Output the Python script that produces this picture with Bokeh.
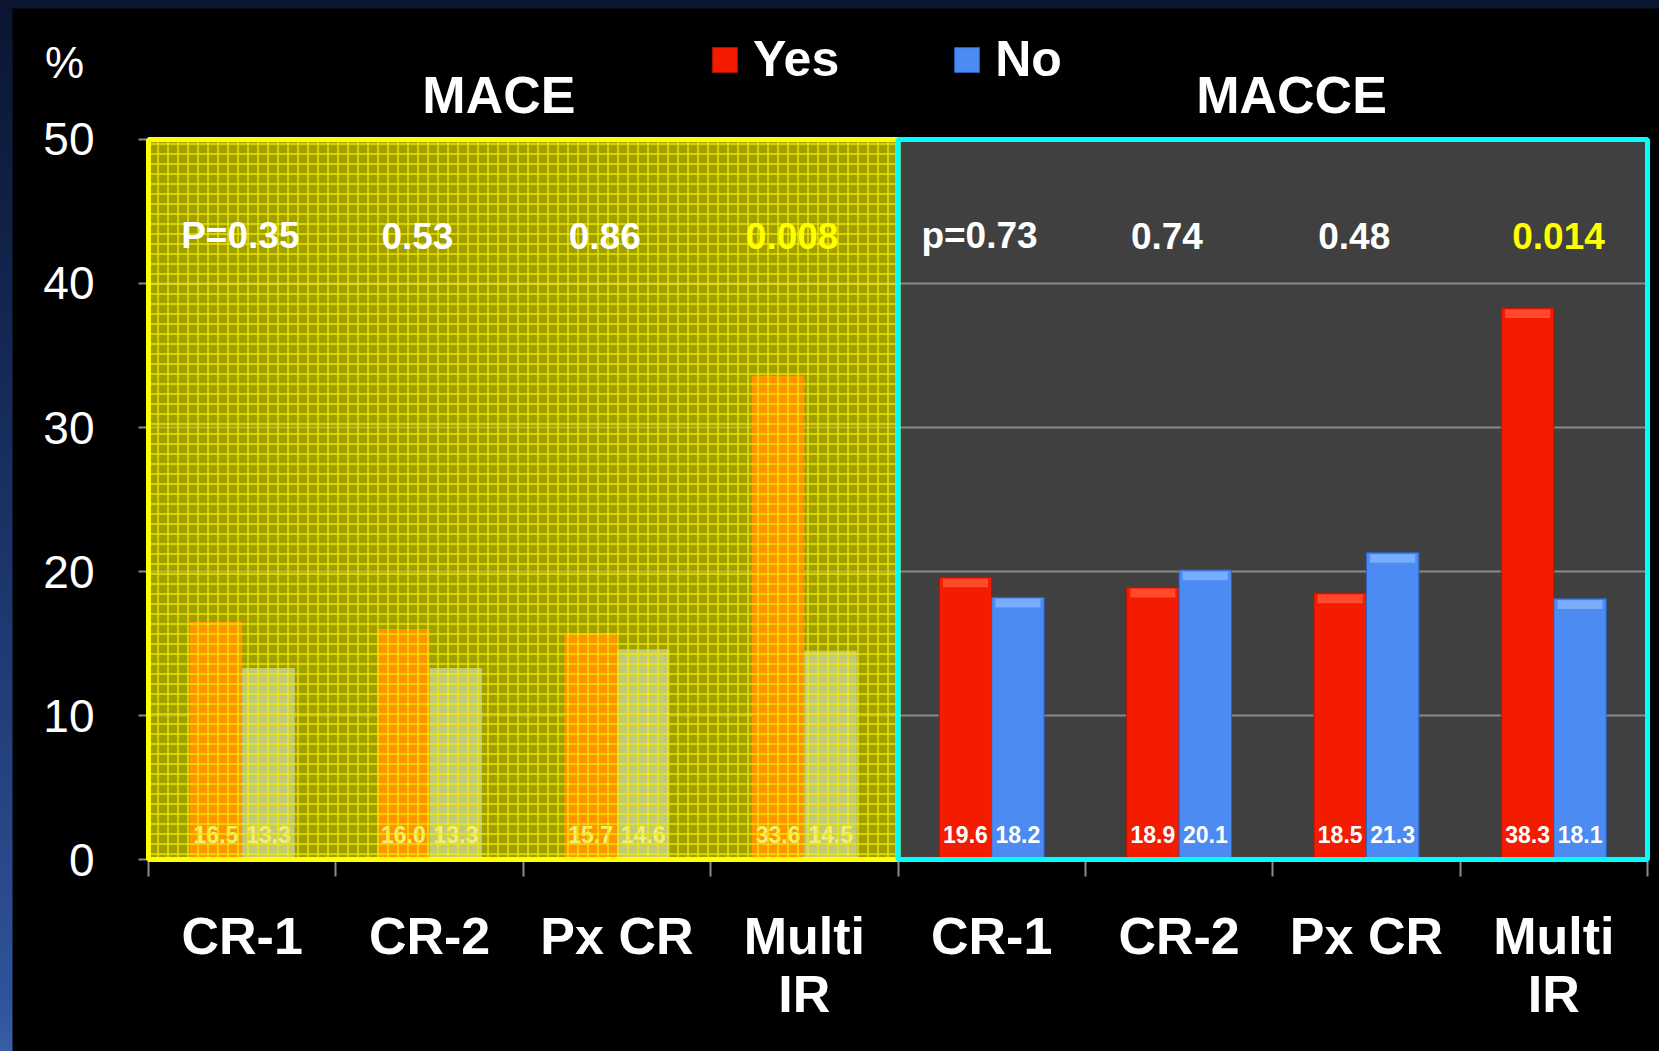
import numpy as np
from bokeh.plotting import figure
from bokeh.models import FixedTicker, Label, Legend, LegendItem
from bokeh.core.properties import value
from bokeh.embed import file_html
from bokeh.resources import INLINE

# ---------------- data ----------------
groups = ["MACE", "MACCE"]
categories = ["CR-1", "CR-2", "Px CR", "Multi\nIR"]
series = ["Yes", "No"]
mace_yes = [16.5, 16.0, 15.7, 33.6]
mace_no = [13.3, 13.3, 14.6, 14.5]
macce_yes = [19.6, 18.9, 18.5, 38.3]
macce_no = [18.2, 20.1, 21.3, 18.1]
p_values = [0.35, 0.53, 0.86, 0.008, 0.73, 0.74, 0.48, 0.014]
p_labels = ["P=0.35", "0.53", "0.86", "0.008", "p=0.73", "0.74", "0.48", "0.014"]
y_ticks = [0, 10, 20, 30, 40, 50]

# layout tweaks (horizontal nudges of the p-value texts, in category units)
p_nudge = [-0.01, -0.065, -0.065, -0.065, -0.065, -0.065, -0.065, 0.025]

FONT = "Liberation Sans"
n = len(categories)
centers = np.arange(2 * n) + 0.5
mace_x = centers[:n]
macce_x = centers[n:]
W = 0.28
ymax = y_ticks[-1]

FW, FH = 1647, 1043
# frame covers the whole canvas; the axes are pinned at x=0 / y=0
p = figure(width=FW, height=FH,
           x_range=(-0.72582, 2 * n + 0.06404), y_range=(-13.3333, 59.0972),
           output_backend="svg", toolbar_location=None,
           background_fill_color="black", border_fill_color="black",
           min_border=0, outline_line_color=None)
p.xgrid.visible = False
p.ygrid.visible = False

# zones
p.quad(left=[0], right=[n], bottom=[0], top=[ymax], fill_color="#a19e00", line_color=None)
p.quad(left=[n], right=[2 * n], bottom=[0], top=[ymax], fill_color="#404040", line_color=None)

grid_y = y_ticks[1:-1]
p.segment(x0=[0] * len(grid_y), x1=[n] * len(grid_y), y0=grid_y, y1=grid_y,
          line_color="#e0dca0", line_alpha=0.4, line_width=2)
p.segment(x0=[n] * len(grid_y), x1=[2 * n] * len(grid_y), y0=grid_y, y1=grid_y,
          line_color="#8a8a8a", line_width=2)

# MACE bars (seen through the yellow overlay)
p.vbar(x=mace_x - W / 2, top=mace_yes, width=W, fill_color="#ff9400", line_color=None)
p.vbar(x=mace_x + W / 2, top=mace_no, width=W, fill_color="#c2ca78", line_color=None)

# MACCE bars
r_yes = p.vbar(x=macce_x - W / 2, top=macce_yes, width=W, fill_color="#f41c00",
               line_color="#b81200", line_width=1)
r_no = p.vbar(x=macce_x + W / 2, top=macce_no, width=W, fill_color="#4b8bf2",
              line_color="#2c62c4", line_width=1)
# bevel highlight at bar tops
p.vbar(x=macce_x - W / 2, top=[v - 0.1 for v in macce_yes], bottom=[v - 0.7 for v in macce_yes],
       width=W * 0.86, fill_color="#ff4a2c", line_color=None)
p.vbar(x=macce_x + W / 2, top=[v - 0.1 for v in macce_no], bottom=[v - 0.7 for v in macce_no],
       width=W * 0.86, fill_color="#78acff", line_color=None)

# value labels
lab_y = [1.74] * n
for xs, vals, col in [(mace_x - W / 2, mace_yes, "#f2ee7a"), (mace_x + W / 2, mace_no, "#f2ee7a"),
                      (macce_x - W / 2, macce_yes, "white"), (macce_x + W / 2, macce_no, "white")]:
    p.text(x=list(xs), y=lab_y, text=[f"{v:.1f}" for v in vals],
           text_align="center", text_baseline="middle", text_font=value(FONT),
           text_font_size="23px", text_font_style="bold", text_color=col)

# hatch overlay on MACE zone
p.quad(left=[0], right=[n], bottom=[0], top=[ymax], fill_alpha=0, fill_color=None,
       line_color=None, hatch_pattern="+", hatch_color="#f4f000", hatch_scale=10,
       hatch_weight=1.5, hatch_alpha=0.85)

# p-values
p_colors = ["#ffff00" if pv < 0.05 else "white" for pv in p_values]
p.text(x=[float(c + d) for c, d in zip(centers, p_nudge)], y=[43.3] * (2 * n),
       text=p_labels, text_color=p_colors,
       text_align="center", text_baseline="middle", text_font=value(FONT),
       text_font_size="37px", text_font_style="bold")

# borders
p.quad(left=[0], right=[n], bottom=[0], top=[ymax], fill_color=None,
       line_color="#ffff00", line_width=5, level="overlay")
p.quad(left=[n], right=[2 * n], bottom=[0], top=[ymax], fill_color=None,
       line_color="#00ffff", line_width=5, level="overlay")

# axes
xa = p.xaxis[0]
xa.fixed_location = 0
xa.ticker = FixedTicker(ticks=[float(c) for c in centers],
                        minor_ticks=list(range(0, 2 * n + 1)))
xa.major_label_overrides = {float(c): lab for c, lab in zip(centers, categories * 2)}
xa.axis_line_color = None
xa.major_tick_line_color = None
xa.major_tick_out = 17
xa.major_tick_in = 0
xa.minor_tick_line_color = "#8c8c8c"
xa.minor_tick_line_width = 2
xa.minor_tick_out = 17
xa.minor_tick_in = 0
xa.major_label_text_font = FONT
xa.major_label_text_font_size = "52px"
xa.major_label_text_font_style = "bold"
xa.major_label_text_color = "white"
xa.major_label_text_line_height = 1.0
xa.major_label_standoff = 30

ya = p.yaxis[0]
ya.fixed_location = 0
ya.ticker = FixedTicker(ticks=y_ticks, minor_ticks=[])
ya.axis_line_color = None
ya.major_tick_line_color = "#8c8c8c"
ya.major_tick_line_width = 2
ya.major_tick_out = 10
ya.major_tick_in = 0
ya.minor_tick_line_color = None
ya.major_label_text_font = FONT
ya.major_label_text_font_size = "46px"
ya.major_label_text_color = "white"
ya.major_label_standoff = 44

# titles
for gx, g in zip([1.87, 6.10], groups):
    p.add_layout(Label(x=gx, y=53.06, text=g, text_align="center", text_baseline="middle",
                       text_font=FONT, text_font_size="52px", text_font_style="bold",
                       text_color="white"))
p.add_layout(Label(x=-0.448, y=55.35, text="%", text_align="center", text_baseline="middle",
                   text_font=FONT, text_font_size="44px", text_color="white"))

# legend
legend = Legend(items=[LegendItem(label=series[0], renderers=[r_yes]),
                       LegendItem(label=series[1], renderers=[r_no])],
                orientation="horizontal", location=(697, 963),
                glyph_width=31, glyph_height=31, label_standoff=13, spacing=112,
                padding=0, margin=0, border_line_color=None, background_fill_alpha=0,
                label_text_font=FONT, label_text_font_size="50px",
                label_text_font_style="bold", label_text_color="white")
p.add_layout(legend, "center")

html = file_html(p, INLINE)
style = ("<style>html { padding:0 !important; margin:0 !important; background:#0a1530 !important; }"
         " body { background: linear-gradient(to bottom, #0a1530 0%, #1a3266 50%, #2f5299 95%, #3a5ea6 100%) !important;"
         " padding:8px 0 0 12px !important; margin:0 !important; box-sizing:border-box;"
         " overflow:hidden; }</style>")
html = html.replace("</head>", style + "</head>", 1)
open("out.html", "w").write(html)
